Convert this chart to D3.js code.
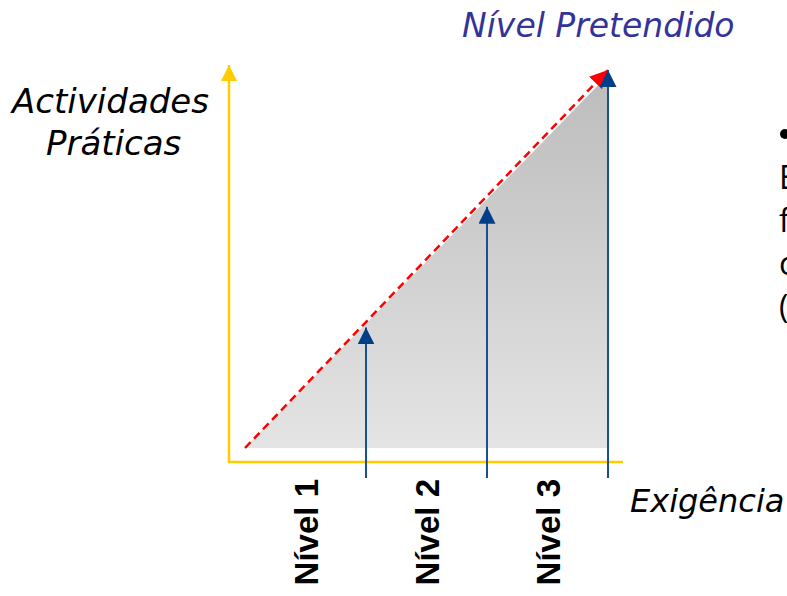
<!DOCTYPE html>
<html>
<head>
<meta charset="utf-8">
<script src="https://cdn.jsdelivr.net/npm/d3@7"></script>
<style>
  body { margin: 0; background: #fff; overflow: hidden; }
  svg { display: block; }
</style>
</head>
<body>
<svg id="chart" width="787" height="596"></svg>
<script>
// levels along the exigency axis and how high each arrow reaches
const levels = ["Nível 1", "Nível 2", "Nível 3"];
const arrowPos = [1, 2, 3];
const arrowValues = [0.97, 1.94, 3.04];
const targetLine = [[0, 0], [3, 3]];
const sideText = ["Exigência", "formação", "contínua", "(CAP)"];

const width = 787, height = 596;
const svg = d3.select("#chart");

const x = d3.scaleLinear().domain([0, 3]).range([245, 608]);
const y = d3.scaleLinear().domain([0, 3]).range([448, 75]);

const defs = svg.append("defs");
const grad = defs.append("linearGradient")
  .attr("id", "shade").attr("x1", 0).attr("y1", 0).attr("x2", 0).attr("y2", 1);
grad.append("stop").attr("offset", "0%").attr("stop-color", "#bcbcbc");
grad.append("stop").attr("offset", "100%").attr("stop-color", "#e4e4e4");

function marker(id, color, size) {
  defs.append("marker")
    .attr("id", id)
    .attr("viewBox", "0 0 10 10")
    .attr("refX", 10).attr("refY", 5)
    .attr("markerUnits", "userSpaceOnUse")
    .attr("markerWidth", size).attr("markerHeight", size)
    .attr("orient", "auto")
    .append("path")
    .attr("d", "M0,0 L10,5 L0,10 Z")
    .attr("fill", color);
}
marker("ay", "#ffcc00", 16);
marker("ab", "#003f87", 17);
marker("ar", "#ff0000", 18);

// shaded area under the target line
const area = d3.area()
  .x(d => x(d[0]))
  .y0(y(0))
  .y1(d => y(d[1]));
svg.append("path")
  .datum(targetLine)
  .attr("d", area)
  .attr("fill", "url(#shade)");

// axes
const ax0 = x(0) - 16, ay0 = y(0) + 14;
svg.append("line")
  .attr("x1", ax0).attr("y1", ay0)
  .attr("x2", x(3) + 15).attr("y2", ay0)
  .attr("stroke", "#ffcc00").attr("stroke-width", 2.5);
svg.append("line")
  .attr("x1", ax0).attr("y1", ay0 + 1)
  .attr("x2", ax0).attr("y2", y(3.08))
  .attr("stroke", "#ffcc00").attr("stroke-width", 2.5)
  .attr("marker-end", "url(#ay)");

// red dashed target line
svg.append("path")
  .datum([targetLine[0], [3, 3.04]])
  .attr("d", d3.line().x(d => x(d[0])).y(d => y(d[1])))
  .attr("fill", "none")
  .attr("stroke", "#ff0000").attr("stroke-width", 2.5)
  .attr("stroke-dasharray", "8,5")
  .attr("marker-end", "url(#ar)");

// blue level arrows
svg.selectAll(".lvl")
  .data(arrowPos)
  .join("line")
  .attr("class", "lvl")
  .attr("x1", d => x(d)).attr("y1", y(0) + 30)
  .attr("x2", d => x(d)).attr("y2", (d, i) => y(arrowValues[i]))
  .attr("stroke", "#1a4f94").attr("stroke-width", 2)
  .attr("marker-end", "url(#ab)");

// level labels, rotated
svg.selectAll(".lab")
  .data(levels)
  .join("text")
  .attr("class", "lab")
  .attr("transform", (d, i) => `translate(${x(i + 0.5) + 12},${y(0) + 31}) rotate(-90)`)
  .attr("text-anchor", "end")
  .attr("font-family", "Liberation Sans, Arial, sans-serif")
  .attr("font-weight", "bold")
  .attr("font-size", 33)
  .attr("fill", "#000")
  .text(d => d);

const ital = "DejaVu Sans, Verdana, sans-serif";
svg.append("text")
  .attr("x", 462).attr("y", 37)
  .attr("font-family", ital).attr("font-style", "italic")
  .attr("font-size", 33).attr("fill", "#333399")
  .text("Nível Pretendido");

svg.append("text")
  .attr("x", 12).attr("y", 113)
  .attr("font-family", ital).attr("font-style", "italic")
  .attr("font-size", 34).attr("fill", "#000")
  .text("Actividades");
svg.append("text")
  .attr("x", 46).attr("y", 155)
  .attr("font-family", ital).attr("font-style", "italic")
  .attr("font-size", 34).attr("fill", "#000")
  .text("Práticas");

svg.append("text")
  .attr("x", 630).attr("y", 512)
  .attr("font-family", ital).attr("font-style", "italic")
  .attr("font-size", 32).attr("fill", "#000")
  .text("Exigência");

// paragraph on the right, running off the slide edge
svg.append("circle")
  .attr("cx", 785).attr("cy", 134).attr("r", 5)
  .attr("fill", "#000");
svg.selectAll(".side")
  .data(sideText)
  .join("text")
  .attr("class", "side")
  .attr("x", 779)
  .attr("y", (d, i) => 189 + i * 43)
  .attr("font-family", "Open Sans, Noto Sans, sans-serif")
  .attr("font-size", 32)
  .attr("fill", "#000")
  .text(d => d);
</script>
</body>
</html>
